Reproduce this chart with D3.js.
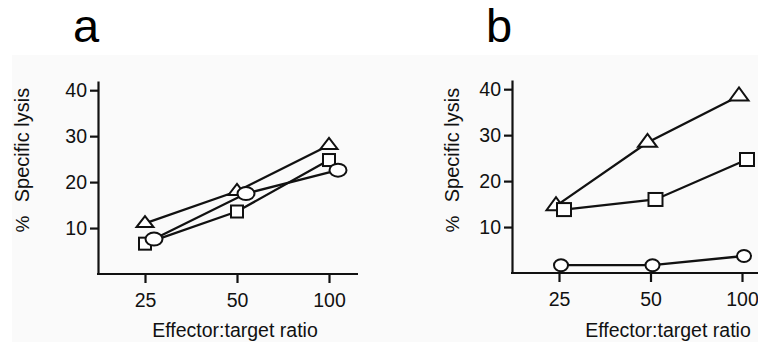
<!DOCTYPE html>
<html>
<head>
<meta charset="utf-8">
<script src="https://cdn.jsdelivr.net/npm/d3@7"></script>
<style>
  body { margin: 0; background: #fff; }
  svg { display: block; font-family: "Liberation Sans", Arial, sans-serif; }
</style>
</head>
<body>
<svg width="758" height="342"></svg>
<script>
// data
const ratios = [25, 50, 100]
const yTicks = [10, 20, 30, 40]

const aTriangle = [11, 18, 28]
const aSquare = [6.6, 13.6, 24.8]
const aCircle = [7.6, 17.5, 22.6]

const bTriangle = [14.6, 28.4, 38.5]
const bSquare = [13.8, 16, 24.7]
const bCircle = [1.7, 1.7, 3.7]

const svg = d3.select('svg')

// scanned paper tint
svg.append('rect').attr('x', 12).attr('y', 55).attr('width', 746).attr('height', 287).attr('fill', '#fafafa')

function panel(o){
    const g = svg.append('g')
    const x = d3.scaleLog().domain([25, 100]).range([o.x0, o.x1])
    const y = d3.scaleLinear().domain([0, 42]).range([o.yBottom, o.yTop])

    // panel letter
    g.append('text').attr('x', o.letterX).attr('y', 42)
        .attr('font-size', 47).text(o.letter)

    // axes
    const yAx = g.append('g').attr('transform', `translate(${o.axisX},0)`)
        .call(d3.axisLeft(y).tickValues(yTicks).tickSize(8).tickSizeOuter(0).tickPadding(3))
    const xAx = g.append('g').attr('transform', `translate(0,${o.yBottom})`)
        .call(d3.axisBottom(x).tickValues(ratios).tickFormat(d3.format('d')).tickSize(9).tickSizeOuter(0).tickPadding(10))
    xAx.select('.domain').remove()
    g.append('line').attr('x1', o.axisX - 1).attr('x2', o.axisEnd)
        .attr('y1', o.yBottom).attr('y2', o.yBottom).attr('stroke', '#111').attr('stroke-width', 2.2)
    ;[yAx, xAx].forEach(a => {
        a.selectAll('line, path').attr('stroke', '#111').attr('stroke-width', 2.2)
        a.selectAll('text').attr('font-size', 19.5).attr('fill', '#111').attr('font-family', 'Liberation Sans, Arial, sans-serif')
    })

    // axis titles
    g.append('text').attr('transform', `translate(${o.yLabelX},${145}) rotate(-90)`)
        .attr('text-anchor', 'middle').attr('font-size', 20).attr('fill', '#111').text('Specific lysis')
    g.append('text').attr('transform', `translate(${o.yLabelX},${224}) rotate(-90)`)
        .attr('text-anchor', 'middle').attr('font-size', 19).attr('fill', '#111').text('%')
    g.append('text').attr('x', o.xLabelX).attr('y', 337)
        .attr('text-anchor', 'middle').attr('font-size', 19.5).attr('fill', '#111').text('Effector:target ratio')

    const line = d3.line()
    o.series.forEach(s => {
        const pts = s.values.map((v, i) => [x(ratios[i]) + s.dx, y(v)])
        g.append('path').attr('d', line(pts)).attr('fill', 'none')
            .attr('stroke', '#111').attr('stroke-width', 2.3)
        s.pts = pts
    })
    o.series.forEach(s => {
        s.pts.forEach(p => {
            let m
            if (s.shape === 'circle') {
                m = g.append('ellipse').attr('cx', p[0]).attr('cy', p[1]).attr('rx', s.w / 2).attr('ry', s.h / 2)
            } else if (s.shape === 'square') {
                m = g.append('rect').attr('x', p[0] - s.w / 2).attr('y', p[1] - s.h / 2).attr('width', s.w).attr('height', s.h)
            } else {
                const tri = [[p[0] - s.w / 2, p[1] + s.h / 3], [p[0] + s.w / 2, p[1] + s.h / 3], [p[0], p[1] - s.h * 2 / 3]]
                m = g.append('path').attr('d', line(tri) + 'Z')
            }
            m.attr('fill', '#fff').attr('stroke', '#111').attr('stroke-width', 2)
        })
    })
}

panel({
    letter: 'a', letterX: 73,
    x0: 145, x1: 329, axisX: 98, axisEnd: 358, yBottom: 274, yTop: 81,
    yLabelX: 29, xLabelX: 235,
    series: [
        {values: aTriangle, shape: 'triangle', dx: 0, w: 17, h: 11},
        {values: aSquare, shape: 'square', dx: 0, w: 12, h: 12},
        {values: aCircle, shape: 'circle', dx: 9, w: 17, h: 13}
    ]
})

panel({
    letter: 'b', letterX: 486,
    x0: 559, x1: 742, axisX: 512, axisEnd: 758, yBottom: 273, yTop: 80,
    yLabelX: 459, xLabelX: 668,
    series: [
        {values: bTriangle, shape: 'triangle', dx: -3, w: 19, h: 13},
        {values: bSquare, shape: 'square', dx: 5, w: 14, h: 13},
        {values: bCircle, shape: 'circle', dx: 2, w: 14, h: 12}
    ]
})
</script>
</body>
</html>
